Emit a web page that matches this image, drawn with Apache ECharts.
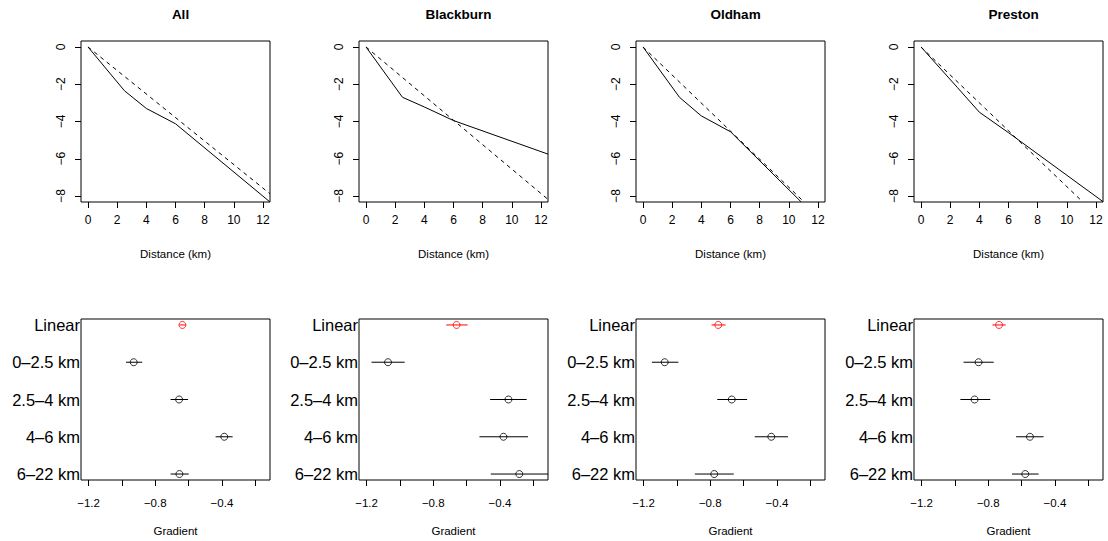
<!DOCTYPE html>
<html>
<head>
<meta charset="utf-8">
<script src="https://cdn.jsdelivr.net/npm/echarts@6/dist/echarts.min.js"></script>
<style>html,body{margin:0;padding:0;background:#fff}#c{width:1108px;height:541px}</style>
</head>
<body>
<div id="c"></div>
<script>
// ---- data ----
const panelNames = ['All', 'Blackburn', 'Oldham', 'Preston'];
const distTicks = [0, 2, 4, 6, 8, 10, 12];
const elevTicks = [0, -2, -4, -6, -8];
const gradTicks = [-1.2, -1.0, -0.8, -0.6, -0.4, -0.2];
const gradLabels = [-1.2, -0.8, -0.4];
const segNames = ['Linear', '0–2.5 km', '2.5–4 km', '4–6 km', '6–22 km'];

// top row: elevation profiles [distance km, value]
const allPiecewise = [[0, 0], [2.5, -2.35], [4, -3.3], [6, -4.12], [12.48, -8.32]];
const allLinear = [[0, 0], [12.48, -7.88]];
const blackburnPiecewise = [[0, 0], [2.5, -2.7], [4, -3.22], [6, -3.95], [12.48, -5.75]];
const blackburnLinear = [[0, 0], [12.48, -8.18]];
const oldhamPiecewise = [[0, 0], [2.5, -2.7], [4, -3.7], [6, -4.55], [10.85, -8.32]];
const oldhamLinear = [[0, 0], [11.05, -8.32]];
const prestonPiecewise = [[0, 0], [2.5, -2.18], [4, -3.5], [6, -4.6], [12.48, -8.3]];
const prestonLinear = [[0, 0], [11.1, -8.32]];

// bottom row: gradient estimates and intervals (order = segNames)
const allEst = [-0.637, -0.929, -0.657, -0.386, -0.655];
const allLo  = [-0.655, -0.975, -0.708, -0.438, -0.708];
const allHi  = [-0.617, -0.878, -0.603, -0.336, -0.599];
const blackburnEst = [-0.660, -1.071, -0.349, -0.379, -0.284];
const blackburnLo  = [-0.722, -1.170, -0.459, -0.523, -0.455];
const blackburnHi  = [-0.594, -0.971, -0.240, -0.232, -0.100];
const oldhamEst = [-0.752, -1.073, -0.671, -0.434, -0.776];
const oldhamLo  = [-0.792, -1.150, -0.758, -0.533, -0.892];
const oldhamHi  = [-0.708, -0.991, -0.579, -0.334, -0.659];
const prestonEst = [-0.735, -0.858, -0.882, -0.550, -0.578];
const prestonLo  = [-0.775, -0.948, -0.967, -0.633, -0.657];
const prestonHi  = [-0.695, -0.767, -0.788, -0.468, -0.498];

const piecewise = [allPiecewise, blackburnPiecewise, oldhamPiecewise, prestonPiecewise];
const linear = [allLinear, blackburnLinear, oldhamLinear, prestonLinear];
const ests = [allEst, blackburnEst, oldhamEst, prestonEst];
const los = [allLo, blackburnLo, oldhamLo, prestonLo];
const his = [allHi, blackburnHi, oldhamHi, prestonHi];

// ---- layout / style ----
const FONT = 'Liberation Sans, Arial, Helvetica, sans-serif';
const lefts = [81, 359, 636, 914];
const W = 189, H = 161, TOP1 = 41, TOP2 = 319;
const minus = v => (v < 0 ? '\u2212' : '');

const option = {
  animation: false,
  backgroundColor: '#fff',
  title: [], grid: [], xAxis: [], yAxis: [], series: []
};

for (let i = 0; i < 4; i++) {
  option.title.push({
    text: panelNames[i], left: lefts[i] + W / 2, top: 2, textAlign: 'center',
    textStyle: {fontSize: 13.5, fontWeight: 'bold', color: '#000', fontFamily: FONT}
  });
  option.grid.push({left: lefts[i], top: TOP1, width: W, height: H, show: true,
    borderColor: '#000', borderWidth: 1, backgroundColor: 'transparent'});
  option.grid.push({left: lefts[i], top: TOP2, width: W, height: H, show: true,
    borderColor: '#000', borderWidth: 1, backgroundColor: 'transparent'});
  const gTop = 2 * i, gBot = 2 * i + 1;

  // top axes
  option.xAxis.push({
    gridIndex: gTop, type: 'value', min: -0.48, max: 12.48, position: 'bottom',
    axisLine: {show: false, onZero: false}, splitLine: {show: false},
    axisTick: {show: true, length: 6, customValues: distTicks, lineStyle: {color: '#000', width: 1}},
    axisLabel: {customValues: distTicks, margin: 12, fontSize: 12, color: '#000', fontFamily: FONT,
      formatter: v => minus(v) + Math.abs(v)},
    name: 'Distance (km)', nameLocation: 'middle', nameGap: 46,
    nameTextStyle: {fontSize: 11.5, color: '#000', fontFamily: FONT}
  });
  option.yAxis.push({
    gridIndex: gTop, type: 'value', min: -8.32, max: 0.32, position: 'left',
    axisLine: {show: false, onZero: false}, splitLine: {show: false},
    axisTick: {show: true, length: 6, customValues: elevTicks, lineStyle: {color: '#000', width: 1}},
    axisLabel: {customValues: elevTicks, rotate: 90, margin: 14, fontSize: 12, color: '#000', fontFamily: FONT,
      formatter: v => minus(v) + Math.abs(v)}
  });
  // bottom axes
  option.xAxis.push({
    gridIndex: gBot, type: 'value', min: -1.245, max: -0.112, position: 'bottom',
    axisLine: {show: false, onZero: false}, splitLine: {show: false},
    axisTick: {show: true, length: 6, customValues: gradTicks, lineStyle: {color: '#000', width: 1}},
    axisLabel: {customValues: gradLabels, margin: 17, fontSize: 11.5, color: '#000', fontFamily: FONT,
      formatter: v => minus(v) + Math.abs(v).toFixed(1)},
    name: 'Gradient', nameLocation: 'middle', nameGap: 45,
    nameTextStyle: {fontSize: 11.5, color: '#000', fontFamily: FONT}
  });
  option.yAxis.push({
    gridIndex: gBot, type: 'value', min: 0.84, max: 5.16, inverse: true, position: 'left',
    axisLine: {show: false, onZero: false}, splitLine: {show: false}, axisTick: {show: false},
    axisLabel: {customValues: [1, 2, 3, 4, 5], margin: 1, fontSize: 16.5, color: '#000', fontFamily: FONT,
      formatter: v => segNames[Math.round(v) - 1]}
  });

  // top series
  option.series.push({
    type: 'line', xAxisIndex: gTop, yAxisIndex: gTop, data: piecewise[i], symbol: 'none',
    clip: true, lineStyle: {color: '#000', width: 1}, silent: true
  });
  option.series.push({
    type: 'line', xAxisIndex: gTop, yAxisIndex: gTop, data: linear[i], symbol: 'none',
    clip: true, lineStyle: {color: '#000', width: 1, type: [4, 4]}, silent: true
  });

  // bottom series: intervals
  const barData = ests[i].map((e, k) => [los[i][k], his[i][k], k + 1]);
  option.series.push({
    type: 'custom', xAxisIndex: gBot, yAxisIndex: gBot, data: barData, clip: true,
    encode: {x: [0, 1], y: 2},
    renderItem: function (params, api) {
      const row = api.value(2);
      const p1 = api.coord([api.value(0), row]);
      const p2 = api.coord([api.value(1), row]);
      const cs = params.coordSys;
      const x1 = Math.max(p1[0], cs.x), x2 = Math.min(p2[0], cs.x + cs.width);
      return {type: 'line', shape: {x1: x1, y1: p1[1], x2: x2, y2: p2[1]},
        style: {stroke: row === 1 ? '#ff0000' : '#000', lineWidth: 1}};
    },
    silent: true
  });
  const ptData = ests[i].map((e, k) => ({value: [e, k + 1],
    itemStyle: {borderColor: k === 0 ? '#ff0000' : '#000'}}));
  option.series.push({
    type: 'scatter', xAxisIndex: gBot, yAxisIndex: gBot, data: ptData,
    symbol: 'circle', symbolSize: 7,
    itemStyle: {color: 'transparent', borderWidth: 1}, silent: true, z: 3
  });
}

const chart = echarts.init(document.getElementById('c'), null, {renderer: 'svg'});
chart.setOption(option);
</script>
</body>
</html>
